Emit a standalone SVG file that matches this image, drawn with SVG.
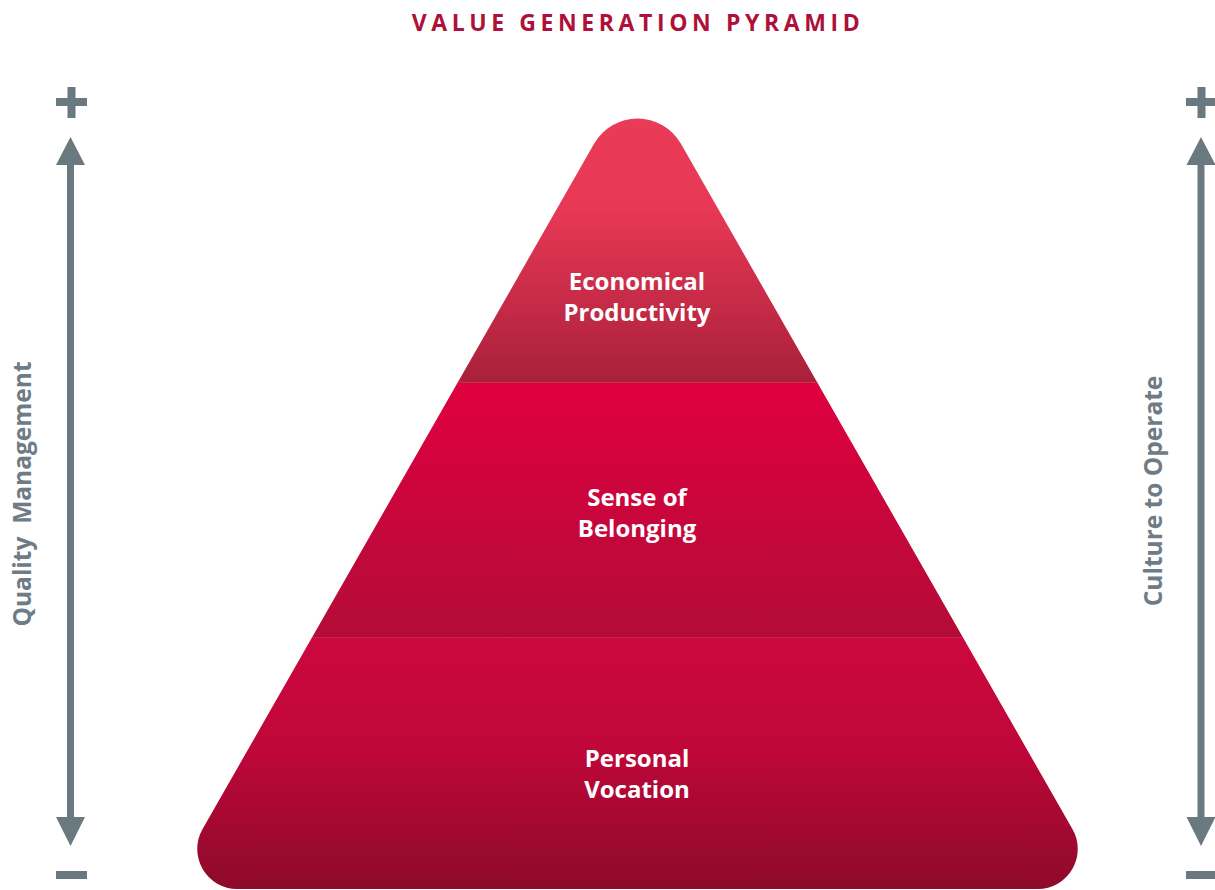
<svg xmlns="http://www.w3.org/2000/svg" width="1215" height="890" viewBox="0 0 1215 890">
  <style>
    .lbl { font-family: "Open Sans", "Liberation Sans", sans-serif; font-weight: 700; font-size: 24px; fill: #ffffff; text-anchor: middle; }
    .side { font-family: "Open Sans", "Liberation Sans", sans-serif; font-weight: 700; font-size: 24.5px; fill: #6f7c85; text-anchor: middle; white-space: pre; }
    .title { font-family: "Open Sans", "Liberation Sans", sans-serif; font-weight: 700; font-size: 23px; fill: #ae1039; text-anchor: middle; letter-spacing: 4.6px; }
    .ax { fill: #6a7880; }
  </style>
  <defs>
    <clipPath id="pyr">
      <path d="M 237.3 889 A 40 40 0 0 1 202.6 829 L 594.2 143.5 A 50 50 0 0 1 680.8 143.5 L 1072.4 829 A 40 40 0 0 1 1037.7 889 Z"/>
    </clipPath>
    <linearGradient id="g1" x1="0" y1="118" x2="0" y2="382" gradientUnits="userSpaceOnUse">
      <stop offset="0" stop-color="#e93a58"/>
      <stop offset="0.35" stop-color="#e73855"/>
      <stop offset="1" stop-color="#a9203a"/>
    </linearGradient>
    <linearGradient id="g2" x1="0" y1="382" x2="0" y2="637" gradientUnits="userSpaceOnUse">
      <stop offset="0" stop-color="#df0040"/>
      <stop offset="1" stop-color="#b30c37"/>
    </linearGradient>
    <linearGradient id="g3" x1="0" y1="637" x2="0" y2="889" gradientUnits="userSpaceOnUse">
      <stop offset="0" stop-color="#cb083d"/>
      <stop offset="0.4" stop-color="#c2073a"/>
      <stop offset="1" stop-color="#8d0a2a"/>
    </linearGradient>
  </defs>

  <text class="title" x="638" y="31">VALUE GENERATION PYRAMID</text>

  <g id="pyramid" clip-path="url(#pyr)">
    <g id="node-economical">
      <rect x="150" y="100" width="975" height="282" fill="url(#g1)"/>
    </g>
    <g id="node-belonging">
      <rect x="150" y="382" width="975" height="255" fill="url(#g2)"/>
    </g>
    <g id="node-vocation">
      <rect x="150" y="637" width="975" height="255" fill="url(#g3)"/>
    </g>
    <line x1="150" y1="382.5" x2="1125" y2="382.5" stroke="#c93050" stroke-width="1"/>
    <line x1="150" y1="637.5" x2="1125" y2="637.5" stroke="#d02050" stroke-width="1"/>
  </g>

  <g id="labels">
    <text class="lbl" x="637" y="290">Economical</text>
    <text class="lbl" x="637" y="321">Productivity</text>
    <text class="lbl" x="637" y="506">Sense of</text>
    <text class="lbl" x="637" y="537">Belonging</text>
    <text class="lbl" x="637" y="767">Personal</text>
    <text class="lbl" x="637" y="798">Vocation</text>
  </g>

  <g id="connectors">
    <g id="axis-left" class="ax">
      <rect x="56" y="98" width="31" height="8"/>
      <rect x="67.5" y="87" width="8" height="31"/>
      <rect x="67" y="160" width="7" height="662"/>
      <polygon points="70.5,137 85,165 56,165"/>
      <polygon points="70.5,846 85,817 56,817"/>
      <rect x="56" y="871" width="31" height="8"/>
    </g>
    <g id="axis-right" class="ax">
      <rect x="1186" y="98" width="31" height="8"/>
      <rect x="1197.5" y="87" width="8" height="31"/>
      <rect x="1197.5" y="160" width="7" height="662"/>
      <polygon points="1201,137 1215.5,165 1186.5,165"/>
      <polygon points="1201,846 1215.5,817 1186.5,817"/>
      <rect x="1186" y="871" width="31" height="8"/>
    </g>
  </g>

  <text class="side" transform="translate(31,494) rotate(-90)">Quality  Management</text>
  <text class="side" transform="translate(1162,491) rotate(-90)">Culture to Operate</text>
</svg>
